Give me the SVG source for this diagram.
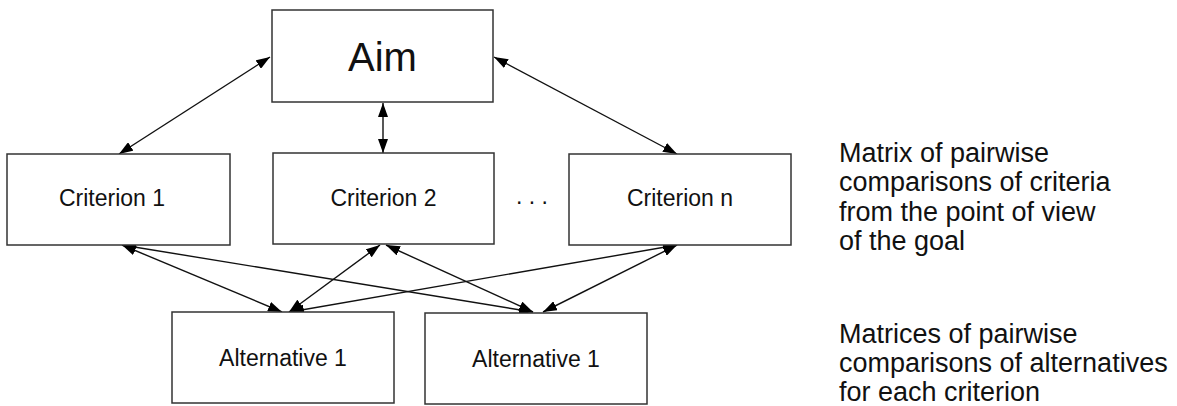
<svg xmlns="http://www.w3.org/2000/svg" width="1177" height="406" viewBox="0 0 1177 406">
<style>
.box{fill:#fff;stroke:#333;stroke-width:1.5}
.lbl{font-family:"Liberation Sans",Arial,sans-serif;font-size:23px;fill:#111;text-anchor:middle}
.note{font-family:"Liberation Sans",Arial,sans-serif;font-size:27px;fill:#111}
.con{stroke:#111;stroke-width:1.4;fill:none;marker-start:url(#ah);marker-end:url(#ah)}
</style>
<defs>
<marker id="ah" markerUnits="userSpaceOnUse" markerWidth="14" markerHeight="10" refX="14" refY="5" orient="auto-start-reverse" viewBox="0 0 14 10">
<path d="M0,0 L14,5 L0,10 z" fill="#000"/>
</marker>
</defs>
<rect width="1177" height="406" fill="#fff"/>
<g id="connectors">
<line class="con" x1="270" y1="57" x2="119" y2="154"/>
<line class="con" x1="383" y1="103" x2="383" y2="153"/>
<line class="con" x1="494" y1="57" x2="677" y2="154"/>
<line class="con" x1="122" y1="245" x2="282" y2="312"/>
<line class="con" x1="122" y1="245" x2="533" y2="312"/>
<line class="con" x1="380" y1="245" x2="289" y2="312"/>
<line class="con" x1="386" y1="245" x2="533" y2="312"/>
<line class="con" x1="677" y1="245" x2="290" y2="312"/>
<line class="con" x1="677" y1="245" x2="543" y2="312"/>
</g>
<g id="aim"><rect class="box" x="272" y="10" width="221" height="92"/><text class="lbl" x="382.5" y="71" style="font-size:40px">Aim</text></g>
<g id="criterion1"><rect class="box" x="7" y="154" width="223" height="91"/><text class="lbl" x="112" y="206">Criterion 1</text></g>
<g id="criterion2"><rect class="box" x="273" y="153" width="221" height="91"/><text class="lbl" x="383.5" y="206">Criterion 2</text></g>
<g id="dots"><text class="lbl" x="532" y="204">. . .</text></g>
<g id="criterionn"><rect class="box" x="569" y="154" width="222" height="91"/><text class="lbl" x="680" y="206">Criterion n</text></g>
<g id="alternative1a"><rect class="box" x="172" y="312" width="222" height="91"/><text class="lbl" x="283" y="366">Alternative 1</text></g>
<g id="alternative1b"><rect class="box" x="425" y="313" width="222" height="91"/><text class="lbl" x="536" y="367">Alternative 1</text></g>
<g id="note1"><text class="note" x="839"><tspan x="839" y="162">Matrix of pairwise</tspan><tspan x="839" y="191">comparisons of criteria</tspan><tspan x="839" y="221">from the point of view</tspan><tspan x="839" y="250">of the goal</tspan></text></g>
<g id="note2"><text class="note" x="839"><tspan x="839" y="343">Matrices of pairwise</tspan><tspan x="839" y="372">comparisons of alternatives</tspan><tspan x="839" y="401">for each criterion</tspan></text></g>
</svg>
